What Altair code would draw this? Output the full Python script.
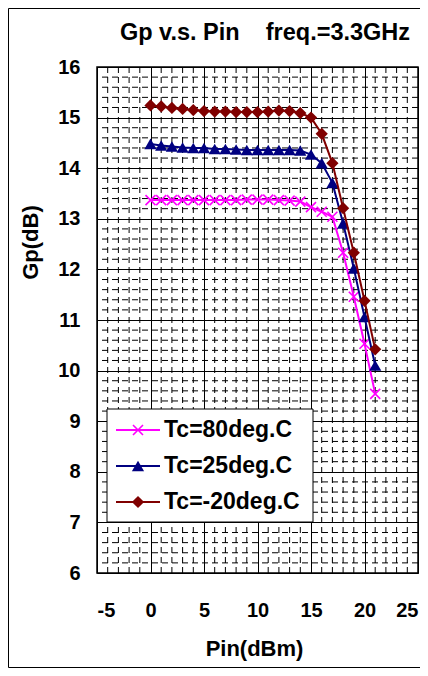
import altair as alt
import pandas as pd
import numpy as np

# ---- data ----
pin = list(range(0, 22))
gp_80 = [13.37, 13.37, 13.37, 13.37, 13.37, 13.37, 13.37, 13.37, 13.37, 13.38, 13.38,
         13.38, 13.37, 13.36, 13.34, 13.23, 13.14, 13.04, 12.33, 11.46, 10.53, 9.54]
gp_25 = [14.48, 14.45, 14.43, 14.41, 14.40, 14.40, 14.38, 14.38, 14.37, 14.36, 14.36,
         14.36, 14.36, 14.36, 14.35, 14.27, 14.10, 13.71, 12.91, 12.02, 11.06, 10.10]
gp_m20 = [15.24, 15.22, 15.19, 15.17, 15.15, 15.13, 15.12, 15.12, 15.11, 15.11, 15.11,
          15.12, 15.14, 15.13, 15.09, 15.00, 14.68, 14.10, 13.21, 12.33, 11.38, 10.42]
series = ["Tc=80deg.C", "Tc=25deg.C", "Tc=-20deg.C"]
colors = ["#FF00FF", "#000080", "#800000"]
shapes = ["M-1,-1L1,1M-1,1L1,-1", "triangle-up", "diamond"]
x_ticks = [-5, 0, 5, 10, 15, 20, 25]
y_ticks = list(range(6, 17))
title_text = "Gp v.s. Pin\u00a0\u00a0\u00a0\u00a0freq.=3.3GHz"

FONT = "Liberation Sans"
W, H = 321, 506

xs = alt.Scale(domain=[-5, 25], nice=False, zero=False)
ys = alt.Scale(domain=[6, 16], nice=False, zero=False)

# minor grid positions
minor_x = [v for v in range(-4, 25) if v % 5 != 0]
minor_y = [round(v, 1) for v in np.arange(6.2, 16.0, 0.2) if abs(v - round(v)) > 1e-6]
df_mx = pd.DataFrame({"x": minor_x})
df_my = pd.DataFrame({"y": minor_y})

x_axis = alt.Axis(values=x_ticks, grid=True, gridColor="black", gridOpacity=1, gridWidth=1,
                  ticks=False, domain=False, labelFont=FONT, labelFontSize=20,
                  labelFontWeight="bold", labelColor="black", labelPadding=27,
                  labelBaseline="top", labelExpr="'' + datum.value",
                  title="Pin(dBm)", titleFont=FONT, titleFontSize=22,
                  titleFontWeight="bold", titleColor="black", titleBaseline="alphabetic",
                  titleX=157, titleY=82, titleAlign="center", titleAnchor="middle")
y_axis = alt.Axis(values=y_ticks, grid=True, gridColor="black", gridOpacity=1, gridWidth=1,
                  ticks=False, domain=False, labelFont=FONT, labelFontSize=20,
                  labelFontWeight="bold", labelColor="black", labelPadding=17,
                  title="Gp(dB)", titleFont=FONT, titleFontSize=22, titleFontWeight="bold",
                  titleColor="black", titleAngle=270, titleBaseline="middle",
                  titleAlign="center", titleX=-67, titleY=175)

one_row = pd.DataFrame({"a": [0]})
frame = alt.Chart(one_row).mark_rect(
    fill="transparent", stroke="black", strokeWidth=1, clip=False
).encode(x=alt.value(-88.5), x2=alt.value(400), y=alt.value(-58.5), y2=alt.value(600.5))

title = alt.Chart(pd.DataFrame({"t": [title_text]})).mark_text(
    align="center", baseline="alphabetic", font=FONT, fontSize=23.5, fontWeight="bold",
    color="black"
).encode(x=alt.value(168), y=alt.value(-27), text="t:N")

vgrid = alt.Chart(df_mx).mark_rule(color="black", strokeWidth=1, strokeDash=[6, 4]).encode(
    x=alt.X("x:Q", scale=xs, axis=x_axis))
hgrid = alt.Chart(df_my).mark_rule(color="black", strokeWidth=1, strokeDash=[6, 4]).encode(
    y=alt.Y("y:Q", scale=ys, axis=y_axis))

layers = [frame, title, vgrid, hgrid]
for name, vals, col, shp in zip(series, [gp_80, gp_25, gp_m20], colors, shapes):
    d = pd.DataFrame({"Pin": pin, "Gp": vals})
    base = alt.Chart(d).encode(x=alt.X("Pin:Q", scale=xs), y=alt.Y("Gp:Q", scale=ys))
    line = base.mark_line(color=col, strokeWidth=2)
    if shp.startswith("M"):
        pts = base.mark_point(shape=shp, color=col, filled=False, size=100, strokeWidth=1.6, opacity=1)
    else:
        pts = base.mark_point(shape=shp, color=col, filled=True, size=150, opacity=1)
    layers += [line, pts]

# legend (decoration)
box = alt.Chart(one_row).mark_rect(
    fill="white", stroke="black", strokeWidth=1
).encode(x=alt.value(10), x2=alt.value(216), y=alt.value(342), y2=alt.value(455))
layers.append(box)
row_y = [363, 399, 435]
for name, col, shp, ry in zip(series, colors, shapes, row_y):
    one = alt.Chart(pd.DataFrame({"label": [name]}))
    layers.append(one.mark_rule(color=col, strokeWidth=2).encode(
        x=alt.value(19), x2=alt.value(63), y=alt.value(ry)))
    if shp.startswith("M"):
        layers.append(one.mark_point(shape=shp, color=col, filled=False, size=100,
                                     strokeWidth=1.6, opacity=1).encode(
            x=alt.value(41), y=alt.value(ry)))
    else:
        layers.append(one.mark_point(shape=shp, color=col, filled=True, size=150,
                                     opacity=1).encode(x=alt.value(41), y=alt.value(ry)))
    layers.append(one.mark_text(align="left", baseline="middle", font=FONT, fontSize=23,
                                fontWeight="bold", color="black").encode(
        x=alt.value(67), y=alt.value(ry), text="label:N"))

chart = alt.layer(*layers).properties(
    width=W, height=H,
    autosize=alt.AutoSizeParams(type="none"),
    padding={"left": 89, "top": 59, "right": 2, "bottom": 95},
).configure_view(stroke="black", strokeWidth=1.5)

chart.save("out.html", embed_options={"renderer": "svg", "actions": False})
